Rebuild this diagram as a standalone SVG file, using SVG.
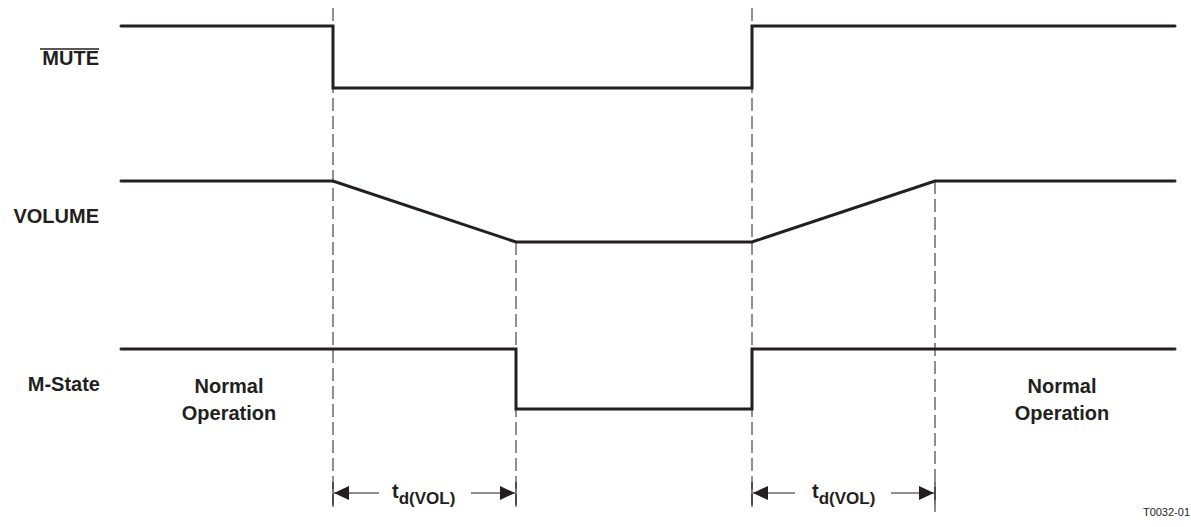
<svg xmlns="http://www.w3.org/2000/svg" width="1191" height="527" viewBox="0 0 1191 527">
<style>
.sig{fill:none;stroke:#231f20;stroke-width:3;stroke-linejoin:miter;stroke-linecap:round}
.dash{fill:none;stroke:#231f20;stroke-width:1;stroke-dasharray:13 5}
.dim{fill:none;stroke:#231f20;stroke-width:1.2}
.tick{fill:none;stroke:#231f20;stroke-width:1.2}
.lbl{font-family:"Liberation Sans",Arial,sans-serif;font-weight:bold;font-size:20px;fill:#231f20}
.small{font-family:"Liberation Sans",Arial,sans-serif;font-size:11px;fill:#231f20}
</style>
<defs>
<marker id="ah" markerWidth="16" markerHeight="14" refX="15" refY="7" orient="auto" markerUnits="userSpaceOnUse">
<path d="M0,0 L15,7 L0,14 Z" fill="#231f20"/>
</marker>
</defs>
<g id="guides">
<line class="dash" x1="333" y1="8" x2="333" y2="512"/>
<line class="dash" x1="516" y1="242" x2="516" y2="512"/>
<line class="dash" x1="752" y1="8" x2="752" y2="512"/>
<line class="dash" x1="935" y1="181" x2="935" y2="512"/>
<line class="tick" x1="333" y1="482" x2="333" y2="505"/>
<line class="tick" x1="516" y1="482" x2="516" y2="505"/>
<line class="tick" x1="752" y1="482" x2="752" y2="505"/>
<line class="tick" x1="935" y1="482" x2="935" y2="505"/>
</g>
<g id="mute">
<polyline class="sig" points="121,26 333,26 333,88 752,88 752,26 1175,26"/>
<text class="lbl" x="99" y="65" text-anchor="end">MUTE</text>
<line x1="40" y1="49" x2="99" y2="49" stroke="#231f20" stroke-width="1.5"/>
</g>
<g id="volume">
<polyline class="sig" points="121,181 333,181 516,242 752,242 935,181 1175,181"/>
<text class="lbl" x="99" y="223" text-anchor="end">VOLUME</text>
</g>
<g id="mstate">
<polyline class="sig" points="121,349 516,349 516,409 752,409 752,349 1175,349"/>
<text class="lbl" x="100" y="391" text-anchor="end">M-State</text>
<text class="lbl" x="229" y="393" text-anchor="middle">Normal</text>
<text class="lbl" x="229" y="420" text-anchor="middle">Operation</text>
<text class="lbl" x="1062" y="393" text-anchor="middle">Normal</text>
<text class="lbl" x="1062" y="420" text-anchor="middle">Operation</text>
</g>
<g id="connectors">
<line class="dim" x1="379" y1="493" x2="334" y2="493" marker-end="url(#ah)"/>
<line class="dim" x1="471" y1="493" x2="515" y2="493" marker-end="url(#ah)"/>
<line class="dim" x1="795" y1="493" x2="753" y2="493" marker-end="url(#ah)"/>
<line class="dim" x1="891" y1="493" x2="934" y2="493" marker-end="url(#ah)"/>
</g>
<g id="td1">
<text class="lbl" x="392" y="498">t<tspan font-size="17" dy="6">d(VOL)</tspan></text>
</g>
<g id="td2">
<text class="lbl" x="812" y="498">t<tspan font-size="17" dy="6">d(VOL)</tspan></text>
</g>
<text class="small" x="1190" y="516" text-anchor="end">T0032-01</text>
</svg>
